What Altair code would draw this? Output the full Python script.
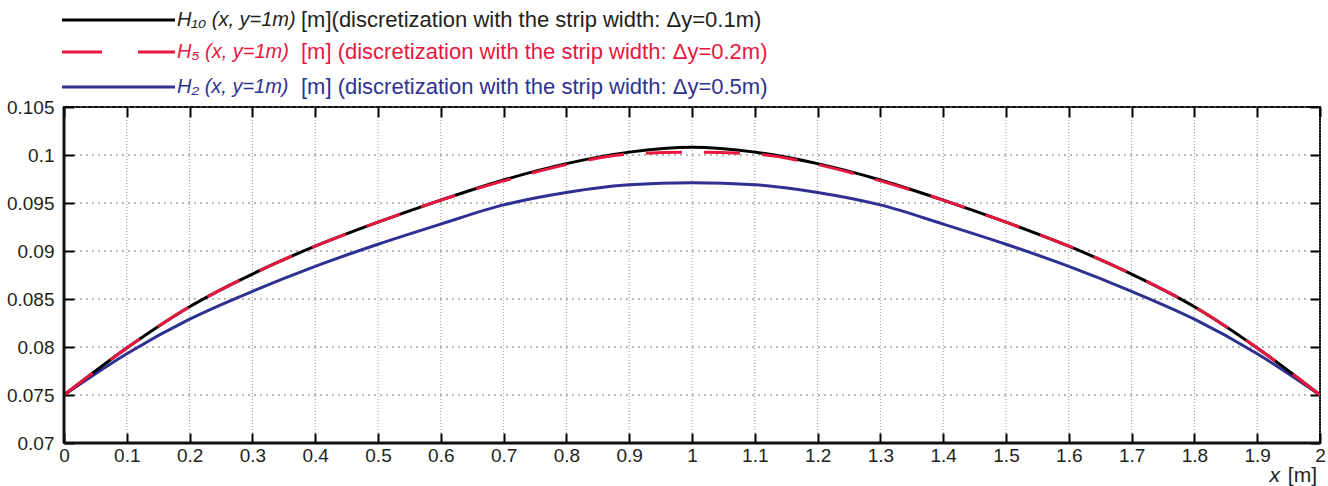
import altair as alt
import pandas as pd

# ---------------- data ----------------
x_vals = [0.0, 0.1, 0.2, 0.3, 0.4, 0.5, 0.6, 0.7, 0.8, 0.9, 1.0,
          1.1, 1.2, 1.3, 1.4, 1.5, 1.6, 1.7, 1.8, 1.9, 2.0]
h10 = [0.0750, 0.0799, 0.0842, 0.0876, 0.0905, 0.0930, 0.0953, 0.0974, 0.0991, 0.1003, 0.1008,
       0.1003, 0.0991, 0.0974, 0.0953, 0.0930, 0.0905, 0.0876, 0.0842, 0.0799, 0.0750]
h5 = [0.0750, 0.0799, 0.0842, 0.0876, 0.0905, 0.0930, 0.0953, 0.0973, 0.0990, 0.1001, 0.1003,
      0.1001, 0.0990, 0.0973, 0.0953, 0.0930, 0.0905, 0.0876, 0.0842, 0.0799, 0.0750]
h2 = [0.0750, 0.0793, 0.0829, 0.0858, 0.0884, 0.0907, 0.0928, 0.0948, 0.0961, 0.0969, 0.0971,
      0.0969, 0.0961, 0.0948, 0.0928, 0.0907, 0.0884, 0.0858, 0.0829, 0.0793, 0.0750]

x_ticks = [0, 0.1, 0.2, 0.3, 0.4, 0.5, 0.6, 0.7, 0.8, 0.9, 1.0,
           1.1, 1.2, 1.3, 1.4, 1.5, 1.6, 1.7, 1.8, 1.9, 2.0]
y_ticks = [0.07, 0.075, 0.08, 0.085, 0.09, 0.095, 0.1, 0.105]

leg_italic = ["H\u2081\u2080 (x, y=1m)", "H\u2085 (x, y=1m)", "H\u2082 (x, y=1m)"]
leg_normal = ["[m](discretization with the strip width: \u0394y=0.1m)",
              "[m] (discretization with the strip width: \u0394y=0.2m)",
              "[m] (discretization with the strip width: \u0394y=0.5m)"]
colors = ["#000000", "#e8173f", "#2e3192"]
text_colors = ["#231f20", "#e8173f", "#2e3192"]

W, H = 1256, 336
FONT = "Liberation Sans"
TL = 10

df10 = pd.DataFrame({"x": x_vals, "y": h10})
df5 = pd.DataFrame({"x": x_vals, "y": h5})
df2 = pd.DataFrame({"x": x_vals, "y": h2})

xscale = alt.Scale(domain=[0, 2], nice=False, zero=False)
yscale = alt.Scale(domain=[0.07, 0.105], nice=False, zero=False)

common = dict(grid=False, domain=False, ticks=True, tickSize=TL, tickColor="#000000", tickWidth=2,
              offset=-TL, labelFont=FONT, labelFontSize=19, labelColor="#231f20", title=None)
xaxis = alt.Axis(values=x_ticks, format=".1~f", labelPadding=3, labelFlush=False, **common)
yaxis = alt.Axis(values=y_ticks, format=".3~f", labelPadding=10, **common)
xaxis_top = alt.Axis(values=x_ticks, labels=False, orient="top", **{k: v for k, v in common.items()
                                                                    if not k.startswith("label")})
yaxis_right = alt.Axis(values=y_ticks, labels=False, orient="right", **{k: v for k, v in common.items()
                                                                        if not k.startswith("label")})


def line(df, color, dash=None):
    kw = dict(strokeWidth=3, interpolate="monotone", color=color, clip=True)
    if dash:
        kw["strokeDash"] = dash
    return alt.Chart(df).mark_line(**kw).encode(
        x=alt.X("x:Q", scale=xscale, axis=xaxis),
        y=alt.Y("y:Q", scale=yscale, axis=yaxis),
    )


# dotted grid (between the inward ticks)
yt = pd.DataFrame({"v": y_ticks})
xt = pd.DataFrame({"v": x_ticks})
grid_h = alt.Chart(yt).mark_rule(color="#6e6e6e", strokeWidth=1, strokeDash=[2, 4]).encode(
    y=alt.Y("v:Q", scale=yscale, axis=yaxis), x=alt.value(TL), x2=alt.value(W - TL))
grid_v = alt.Chart(xt).mark_rule(color="#9a9a9a", strokeWidth=1, strokeDash=[1, 2]).encode(
    x=alt.X("v:Q", scale=xscale, axis=xaxis), y=alt.value(TL), y2=alt.value(H - TL))

blue = line(df2, colors[2])
black = line(df10, colors[0])
red = line(df5, colors[1], [36, 22])

# thicker left/bottom frame
frame_left = alt.Chart(pd.DataFrame({"a": [0]})).mark_rule(color="#111", strokeWidth=3).encode(
    x=alt.value(0), y=alt.value(0), y2=alt.value(H))
frame_bottom = alt.Chart(pd.DataFrame({"a": [0]})).mark_rule(color="#111", strokeWidth=3).encode(
    x=alt.value(0), x2=alt.value(W), y=alt.value(H))

# legend
leg_y = [-87, -55, -20]
leg_layers = []
leg_layers.append(alt.Chart(pd.DataFrame({"a": [0]})).mark_rule(color=colors[0], strokeWidth=3).encode(
    x=alt.value(-2), x2=alt.value(111), y=alt.value(leg_y[0])))
leg_layers.append(alt.Chart(pd.DataFrame({"a": [0]})).mark_rule(color=colors[1], strokeWidth=3).encode(
    x=alt.value(-2), x2=alt.value(38), y=alt.value(leg_y[1])))
leg_layers.append(alt.Chart(pd.DataFrame({"a": [0]})).mark_rule(color=colors[1], strokeWidth=3).encode(
    x=alt.value(74), x2=alt.value(111), y=alt.value(leg_y[1])))
leg_layers.append(alt.Chart(pd.DataFrame({"a": [0]})).mark_rule(color=colors[2], strokeWidth=3).encode(
    x=alt.value(-2), x2=alt.value(111), y=alt.value(leg_y[2])))
for i in range(3):
    leg_layers.append(alt.Chart(pd.DataFrame({"t": [leg_italic[i]]})).mark_text(
        font=FONT, fontSize=20, fontStyle="italic", align="left", baseline="middle",
        color=text_colors[i]).encode(text="t:N", x=alt.value(113), y=alt.value(leg_y[i])))
    leg_layers.append(alt.Chart(pd.DataFrame({"t": [leg_normal[i]]})).mark_text(
        font=FONT, fontSize=22, align="left", baseline="middle",
        color=text_colors[i]).encode(text="t:N", x=alt.value(237), y=alt.value(leg_y[i])))

# x axis title
xt1 = alt.Chart(pd.DataFrame({"t": ["[m]"]})).mark_text(
    font=FONT, fontSize=21, align="right", baseline="middle", color="#231f20").encode(
    text="t:N", x=alt.value(W - 3), y=alt.value(H + 33))
xt2 = alt.Chart(pd.DataFrame({"t": ["x"]})).mark_text(
    font=FONT, fontSize=21, fontStyle="italic", align="right", baseline="middle", color="#231f20").encode(
    text="t:N", x=alt.value(W - 40), y=alt.value(H + 33))

main = alt.layer(grid_h, grid_v, blue, black, red, frame_left, frame_bottom, *leg_layers, xt1, xt2)

# invisible layer carrying the top/right tick axes (inward ticks, MATLAB box style)
box = alt.Chart(df10).mark_point(opacity=0).encode(
    x=alt.X("x:Q", scale=xscale, axis=xaxis_top),
    y=alt.Y("y:Q", scale=yscale, axis=yaxis_right),
)

chart = alt.layer(main, box).resolve_axis(x="independent", y="independent").properties(
    width=W, height=H,
    autosize=alt.AutoSizeParams(type="none"),
    padding={"left": 64, "top": 107, "right": 8, "bottom": 43},
    background="white",
).configure_view(stroke="#111111", strokeWidth=2)

chart.save("out.html", embed_options={"renderer": "svg", "actions": False})
